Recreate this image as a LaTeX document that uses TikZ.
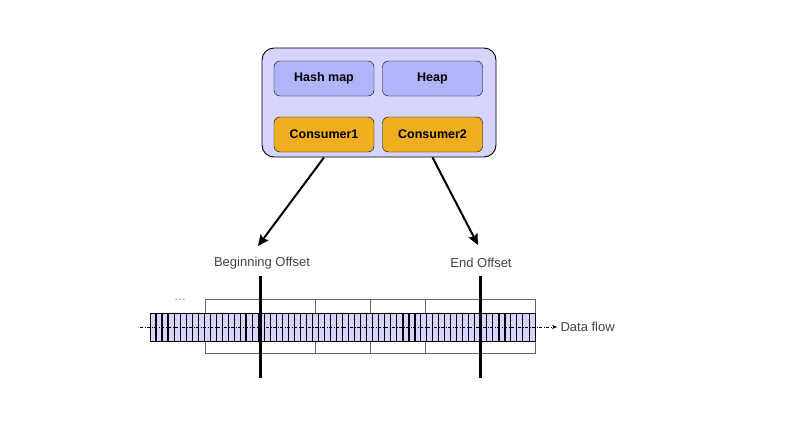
\documentclass[tikz,border=0pt]{standalone}
\usepackage{fontspec}
\setmainfont{Liberation Sans}
\usetikzlibrary{arrows.meta}
\definecolor{memfill}{HTML}{D4D4FC}
\definecolor{boxfill}{HTML}{B1B4F9}
\definecolor{consfill}{HTML}{F0AD1E}
\definecolor{lblgray}{HTML}{444444}
\tikzstyle{mem} = [draw=black, fill=memfill, rounded corners=12pt, line width=0.9pt]
\tikzstyle{box} = [draw=black, fill=boxfill, rounded corners=6pt, minimum width=100pt, minimum height=35pt, font={\fontsize{12.5}{15}\selectfont\bfseries}]
\tikzstyle{consumer} = [box, fill=consfill]
\tikzstyle{lbl} = [text=lblgray, font={\fontsize{13}{15}\selectfont}]
\tikzstyle{ptr} = [-{Stealth[length=11pt,width=10pt,inset=2pt]}, line width=2pt]
\tikzstyle{cell} = [draw=black, fill=memfill, line width=1pt]
\tikzstyle{seg} = [draw=gray!80!black, line width=0.8pt]
\tikzstyle{bar} = [line width=3pt]
\tikzstyle{flow} = [-{Stealth[length=5pt,width=4pt]}, line width=0.7pt, dash pattern=on 3pt off 1.5pt on 1pt off 1.5pt]
\begin{document}
\begin{tikzpicture}[x=1pt,y=-1pt]
    \useasboundingbox (0,0) rectangle (793,445);
    \node[mem,minimum width=234pt,minimum height=109pt](memory) at (379,102.5){};
    \node[box](hashmap) at (324,78.5){Hash map};
    \node[box](heap) at (432.5,78.5){Heap};
    \node[consumer](consumer1) at (324,134.5){Consumer1};
    \node[consumer](consumer2) at (432.5,134.5){Consumer2};
    \node[lbl](beginoff) at (262,263){Beginning Offset};
    \node[lbl](endoff) at (481,263){End Offset};
    \coordinate (begintip) at (258,246);
    \coordinate (endtip) at (478,245);
    % log segments
    \foreach \a/\b in {205/315,315/370,370/425,425/535}
      \draw[seg] (\a,299) rectangle (\b,353);
    % the strip of records
    \foreach \i in {0,...,63}
      \draw[cell] ({150+6.016*\i},313) rectangle ++(6.016,28);
    \foreach \i in {1,2,3,16,42,43,44,58,59}
      \draw[line width=1.8pt] ({150+6.016*\i},313) -- ++(0,28);
    \node[text=gray,font=\fontsize{12}{14}\selectfont](dots) at (180,300){\ldots};
    \coordinate (flowstart) at (140,327);
    \node[lbl,anchor=west](dataflow) at (557,327){Data flow};
    \draw[flow] (flowstart) -- (dataflow.west);
    \draw[bar] (260,276) -- (260,378);
    \draw[bar] (480,276) -- (480,378);
    \draw[ptr] (consumer1.south |- memory.south) -- (begintip);
    \draw[ptr] (consumer2.south |- memory.south) -- (endtip);
  \end{tikzpicture}
\end{document}
